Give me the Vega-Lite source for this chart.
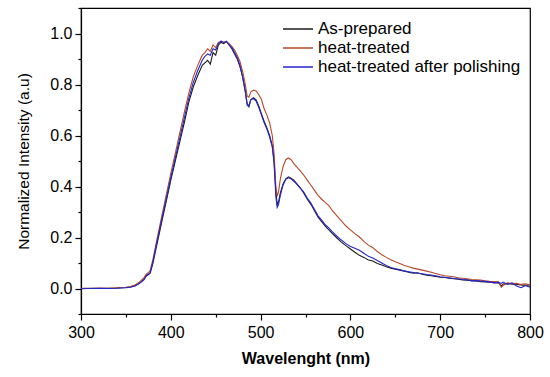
{
  "$schema": "https://vega.github.io/schema/vega-lite/v6.json",
  "width": 449,
  "height": 306,
  "autosize": {"type": "none"},
  "padding": {"left": 81, "top": 8, "right": 20, "bottom": 63},
  "config": {
    "view": {"stroke": "black", "strokeWidth": 1.2},
    "font": "Liberation Sans",
    "axis": {"domainColor": "black", "tickColor": "black", "labelColor": "black", "titleColor": "black", "grid": false, "domainWidth": 1.2, "tickWidth": 1.2}
  },
  "data": {
    "values": [
      {"w": 300, "a": 0.000, "h": 0.001, "p": -0.001},
      {"w": 310, "a": 0.001, "h": 0.000, "p": 0.000},
      {"w": 320, "a": 0.000, "h": 0.002, "p": 0.001},
      {"w": 330, "a": 0.001, "h": 0.001, "p": 0.000},
      {"w": 340, "a": 0.002, "h": 0.003, "p": 0.001},
      {"w": 350, "a": 0.004, "h": 0.005, "p": 0.003},
      {"w": 355, "a": 0.006, "h": 0.008, "p": 0.005},
      {"w": 360, "a": 0.011, "h": 0.014, "p": 0.010},
      {"w": 365, "a": 0.021, "h": 0.025, "p": 0.019},
      {"w": 370, "a": 0.036, "h": 0.042, "p": 0.034},
      {"w": 373, "a": 0.052, "h": 0.058, "p": 0.050},
      {"w": 375, "a": 0.056, "h": 0.062, "p": 0.054},
      {"w": 377, "a": 0.060, "h": 0.070, "p": 0.062},
      {"w": 380, "a": 0.098, "h": 0.112, "p": 0.104},
      {"w": 385, "a": 0.180, "h": 0.200, "p": 0.190},
      {"w": 390, "a": 0.262, "h": 0.285, "p": 0.272},
      {"w": 395, "a": 0.343, "h": 0.368, "p": 0.352},
      {"w": 400, "a": 0.425, "h": 0.452, "p": 0.435},
      {"w": 405, "a": 0.500, "h": 0.530, "p": 0.512},
      {"w": 410, "a": 0.575, "h": 0.610, "p": 0.590},
      {"w": 415, "a": 0.650, "h": 0.690, "p": 0.668},
      {"w": 420, "a": 0.730, "h": 0.765, "p": 0.745},
      {"w": 425, "a": 0.790, "h": 0.830, "p": 0.808},
      {"w": 430, "a": 0.835, "h": 0.875, "p": 0.855},
      {"w": 435, "a": 0.875, "h": 0.915, "p": 0.895},
      {"w": 438, "a": 0.885, "h": 0.925, "p": 0.910},
      {"w": 441, "a": 0.895, "h": 0.940, "p": 0.920},
      {"w": 444, "a": 0.880, "h": 0.930, "p": 0.915},
      {"w": 447, "a": 0.925, "h": 0.955, "p": 0.940},
      {"w": 450, "a": 0.915, "h": 0.945, "p": 0.935},
      {"w": 453, "a": 0.955, "h": 0.965, "p": 0.960},
      {"w": 456, "a": 0.965, "h": 0.970, "p": 0.970},
      {"w": 459, "a": 0.960, "h": 0.965, "p": 0.965},
      {"w": 462, "a": 0.968, "h": 0.968, "p": 0.970},
      {"w": 465, "a": 0.955, "h": 0.960, "p": 0.955},
      {"w": 468, "a": 0.940, "h": 0.950, "p": 0.945},
      {"w": 471, "a": 0.920, "h": 0.935, "p": 0.925},
      {"w": 474, "a": 0.900, "h": 0.915, "p": 0.905},
      {"w": 477, "a": 0.870, "h": 0.890, "p": 0.875},
      {"w": 480, "a": 0.830, "h": 0.850, "p": 0.830},
      {"w": 483, "a": 0.775, "h": 0.800, "p": 0.770},
      {"w": 485, "a": 0.725, "h": 0.755, "p": 0.720},
      {"w": 487, "a": 0.715, "h": 0.750, "p": 0.712},
      {"w": 489, "a": 0.740, "h": 0.770, "p": 0.740},
      {"w": 492, "a": 0.748, "h": 0.778, "p": 0.745},
      {"w": 495, "a": 0.740, "h": 0.775, "p": 0.735},
      {"w": 498, "a": 0.715, "h": 0.760, "p": 0.710},
      {"w": 501, "a": 0.685, "h": 0.740, "p": 0.680},
      {"w": 504, "a": 0.655, "h": 0.705, "p": 0.650},
      {"w": 507, "a": 0.630, "h": 0.680, "p": 0.625},
      {"w": 510, "a": 0.600, "h": 0.650, "p": 0.595},
      {"w": 513, "a": 0.560, "h": 0.600, "p": 0.555},
      {"w": 515, "a": 0.500, "h": 0.530, "p": 0.490},
      {"w": 517, "a": 0.380, "h": 0.400, "p": 0.360},
      {"w": 518.5, "a": 0.330, "h": 0.362, "p": 0.318},
      {"w": 520, "a": 0.340, "h": 0.380, "p": 0.330},
      {"w": 522, "a": 0.375, "h": 0.430, "p": 0.365},
      {"w": 525, "a": 0.410, "h": 0.478, "p": 0.405},
      {"w": 528, "a": 0.430, "h": 0.505, "p": 0.428},
      {"w": 531, "a": 0.438, "h": 0.512, "p": 0.434},
      {"w": 534, "a": 0.432, "h": 0.505, "p": 0.430},
      {"w": 537, "a": 0.425, "h": 0.490, "p": 0.420},
      {"w": 540, "a": 0.412, "h": 0.478, "p": 0.410},
      {"w": 544, "a": 0.395, "h": 0.462, "p": 0.395},
      {"w": 548, "a": 0.375, "h": 0.445, "p": 0.378},
      {"w": 552, "a": 0.350, "h": 0.425, "p": 0.355},
      {"w": 556, "a": 0.330, "h": 0.405, "p": 0.335},
      {"w": 560, "a": 0.305, "h": 0.385, "p": 0.310},
      {"w": 564, "a": 0.280, "h": 0.365, "p": 0.285},
      {"w": 568, "a": 0.262, "h": 0.350, "p": 0.268},
      {"w": 572, "a": 0.245, "h": 0.338, "p": 0.250},
      {"w": 576, "a": 0.230, "h": 0.325, "p": 0.238},
      {"w": 580, "a": 0.215, "h": 0.305, "p": 0.222},
      {"w": 585, "a": 0.198, "h": 0.285, "p": 0.205},
      {"w": 590, "a": 0.182, "h": 0.265, "p": 0.190},
      {"w": 595, "a": 0.168, "h": 0.245, "p": 0.176},
      {"w": 600, "a": 0.155, "h": 0.230, "p": 0.165},
      {"w": 605, "a": 0.142, "h": 0.215, "p": 0.158},
      {"w": 610, "a": 0.130, "h": 0.202, "p": 0.150},
      {"w": 615, "a": 0.122, "h": 0.185, "p": 0.138},
      {"w": 620, "a": 0.112, "h": 0.170, "p": 0.126},
      {"w": 625, "a": 0.108, "h": 0.160, "p": 0.120},
      {"w": 630, "a": 0.098, "h": 0.145, "p": 0.110},
      {"w": 635, "a": 0.092, "h": 0.132, "p": 0.100},
      {"w": 640, "a": 0.085, "h": 0.122, "p": 0.090},
      {"w": 645, "a": 0.080, "h": 0.113, "p": 0.082},
      {"w": 650, "a": 0.076, "h": 0.105, "p": 0.077},
      {"w": 655, "a": 0.072, "h": 0.098, "p": 0.074},
      {"w": 660, "a": 0.068, "h": 0.090, "p": 0.069},
      {"w": 665, "a": 0.064, "h": 0.085, "p": 0.066},
      {"w": 670, "a": 0.060, "h": 0.080, "p": 0.063},
      {"w": 675, "a": 0.062, "h": 0.076, "p": 0.060},
      {"w": 680, "a": 0.056, "h": 0.072, "p": 0.058},
      {"w": 685, "a": 0.052, "h": 0.068, "p": 0.055},
      {"w": 690, "a": 0.050, "h": 0.064, "p": 0.053},
      {"w": 695, "a": 0.047, "h": 0.059, "p": 0.050},
      {"w": 700, "a": 0.044, "h": 0.054, "p": 0.046},
      {"w": 705, "a": 0.043, "h": 0.050, "p": 0.044},
      {"w": 710, "a": 0.040, "h": 0.048, "p": 0.042},
      {"w": 715, "a": 0.038, "h": 0.046, "p": 0.039},
      {"w": 720, "a": 0.036, "h": 0.042, "p": 0.038},
      {"w": 725, "a": 0.034, "h": 0.040, "p": 0.035},
      {"w": 730, "a": 0.033, "h": 0.038, "p": 0.034},
      {"w": 735, "a": 0.031, "h": 0.035, "p": 0.030},
      {"w": 740, "a": 0.030, "h": 0.034, "p": 0.031},
      {"w": 745, "a": 0.027, "h": 0.033, "p": 0.029},
      {"w": 750, "a": 0.026, "h": 0.030, "p": 0.028},
      {"w": 755, "a": 0.025, "h": 0.028, "p": 0.026},
      {"w": 760, "a": 0.023, "h": 0.027, "p": 0.022},
      {"w": 765, "a": 0.022, "h": 0.026, "p": 0.024},
      {"w": 768, "a": 0.010, "h": 0.005, "p": 0.020},
      {"w": 770, "a": 0.018, "h": 0.012, "p": 0.025},
      {"w": 775, "a": 0.020, "h": 0.022, "p": 0.016},
      {"w": 780, "a": 0.017, "h": 0.019, "p": 0.022},
      {"w": 785, "a": 0.016, "h": 0.020, "p": 0.010},
      {"w": 790, "a": 0.014, "h": 0.016, "p": 0.003},
      {"w": 795, "a": 0.012, "h": 0.018, "p": 0.012},
      {"w": 800, "a": 0.010, "h": 0.014, "p": 0.005}
    ]
  },
  "transform": [{"fold": ["a", "h", "p"], "as": ["series", "value"]}],
  "mark": {"type": "line", "strokeWidth": 1.1, "clip": true},
  "encoding": {
    "x": {
      "field": "w",
      "type": "quantitative",
      "scale": {"domain": [300, 800], "nice": false, "zero": false},
      "axis": {
        "values": [300, 350, 400, 450, 500, 550, 600, 650, 700, 750, 800],
        "labelExpr": "datum.value % 100 === 0 ? datum.label : ''",
        "tickSize": {"condition": {"test": "datum.value % 100 === 0", "value": 6}, "value": 3},
        "labelFontSize": 16,
        "labelPadding": 4,
        "labelFlush": false,
        "title": "Wavelenght (nm)",
        "titleFontSize": 16,
        "titleFontWeight": "bold",
        "titlePadding": 10
      }
    },
    "y": {
      "field": "value",
      "type": "quantitative",
      "scale": {"domain": [-0.1, 1.1], "nice": false, "zero": false},
      "axis": {
        "values": [-0.1, 0, 0.1, 0.2, 0.3, 0.4, 0.5, 0.6, 0.7, 0.8, 0.9, 1.0, 1.1],
        "format": ".1f",
        "labelExpr": "(abs(round(datum.value*10)) % 2 === 0) ? datum.label : ''",
        "tickSize": {"condition": {"test": "abs(round(datum.value*10)) % 2 === 0", "value": 6}, "value": 3},
        "labelFontSize": 16,
        "labelPadding": 3,
        "labelFlush": false,
        "title": "Normalized Intensity (a.u)",
        "titleFontSize": 15.5,
        "titleFontWeight": "normal",
        "titlePadding": 18
      }
    },
    "color": {
      "field": "series",
      "type": "nominal",
      "scale": {"domain": ["a", "h", "p"], "range": ["#1c1c1c", "#b5482a", "#2525cc"]},
      "legend": {
        "orient": "none",
        "legendX": 206,
        "legendY": 10,
        "title": null,
        "symbolType": "M-1.5,0H1.5",
        "symbolSize": 400,
        "symbolStrokeWidth": 1.5,
        "labelFontSize": 17,
        "labelColor": "black",
        "labelOffset": 9,
        "labelLimit": 0,
        "rowPadding": 0,
        "labelExpr": "{'a': 'As-prepared', 'h': 'heat-treated', 'p': 'heat-treated after polishing'}[datum.label]"
      }
    }
  }
}
